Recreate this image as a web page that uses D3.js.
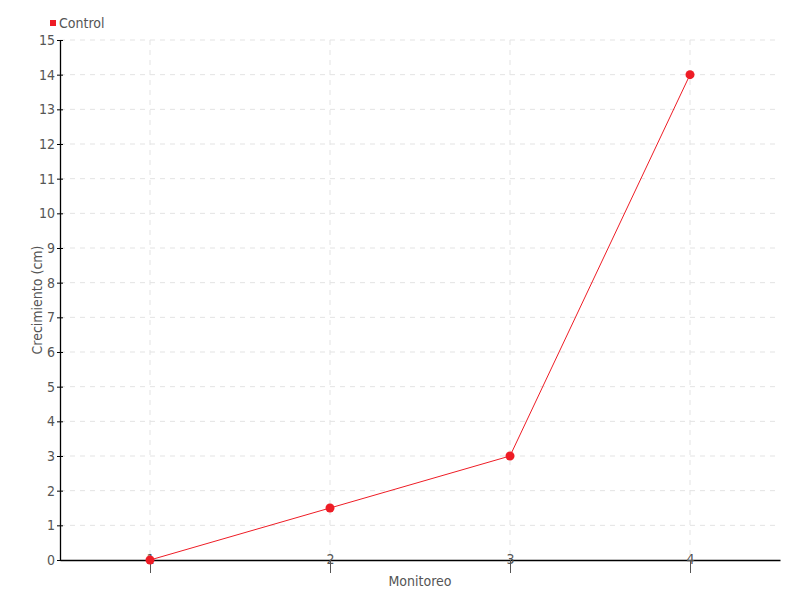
<!DOCTYPE html>
<html>
<head>
<meta charset="utf-8">
<script src="https://cdn.jsdelivr.net/npm/d3@7"></script>
<style>
  body { margin: 0; background: #fff; }
  text { font-family: "Liberation Sans Narrow", "DejaVu Sans Condensed", sans-serif; fill: #555; }
</style>
</head>
<body>
<div id="chart"></div>
<script>
var monitoreo = [1, 2, 3, 4];
var control = [0, 1.5, 3, 14];
var yTicks = d3.range(0, 16);
var serieName = "Control";
var color = "#ee1c25";

var margin = {top: 40, right: 20, bottom: 40, left: 60},
    width = 800 - margin.left - margin.right,
    height = 600 - margin.top - margin.bottom;

var svg = d3.select("#chart").append("svg")
    .attr("width", 800)
    .attr("height", 600)
  .append("g")
    .attr("transform", "translate(" + margin.left + "," + margin.top + ")");

var x = d3.scaleLinear().domain([0.5, 4.5]).range([0, width]);
var y = d3.scaleLinear().domain([0, 15]).range([height, 0]);

// grid
svg.append("g").selectAll("line.h")
    .data(yTicks.slice(1))
  .enter().append("line")
    .attr("x1", 0).attr("x2", width)
    .attr("y1", function(d) { return y(d); })
    .attr("y2", function(d) { return y(d); })
    .attr("stroke", "#e3e3e3")
    .attr("stroke-dasharray", "5,5");
svg.append("g").selectAll("line.v")
    .data(monitoreo)
  .enter().append("line")
    .attr("x1", function(d) { return x(d); })
    .attr("x2", function(d) { return x(d); })
    .attr("y1", 0).attr("y2", height)
    .attr("stroke", "#e3e3e3")
    .attr("stroke-dasharray", "5,5");

// axes
var xAxis = svg.append("g")
    .attr("transform", "translate(0," + height + ")")
    .call(d3.axisBottom(x).tickValues(monitoreo).tickFormat(d3.format("d")).tickSize(13).tickSizeOuter(0));
xAxis.select(".domain").attr("stroke", "#000").attr("stroke-width", 1.3);
xAxis.selectAll(".tick line").attr("stroke", "#555");
xAxis.selectAll(".tick text").attr("dy", "0.1em").attr("y", 3).style("font-size", "14px");

var yAxis = svg.append("g")
    .call(d3.axisLeft(y).tickValues(yTicks).tickSize(3).tickSizeOuter(0));
yAxis.select(".domain").attr("stroke", "#000").attr("stroke-width", 1.3);
yAxis.selectAll(".tick line").attr("x2", 3).attr("x1", -3).attr("stroke", "#000");
yAxis.selectAll(".tick text").attr("x", -5).style("font-size", "14px");

// line
var line = d3.line()
    .x(function(d, i) { return x(monitoreo[i]); })
    .y(function(d) { return y(d); });
svg.append("path")
    .datum(control)
    .attr("fill", "none")
    .attr("stroke", color)
    .attr("stroke-width", 1)
    .attr("d", line);
svg.selectAll(".dot")
    .data(control)
  .enter().append("circle")
    .attr("class", "dot")
    .attr("cx", function(d, i) { return x(monitoreo[i]); })
    .attr("cy", function(d) { return y(d); })
    .attr("r", 4.5)
    .attr("fill", color);

// labels
svg.append("text")
    .attr("x", width / 2).attr("y", height + 26)
    .attr("text-anchor", "middle")
    .style("font-size", "14px")
    .text("Monitoreo");
svg.append("text")
    .attr("transform", "translate(-18," + (height / 2) + ") rotate(-90)")
    .attr("text-anchor", "middle")
    .style("font-size", "14px")
    .text("Crecimiento (cm)");

// legend
var legend = svg.append("g").attr("transform", "translate(-10,-17)");
legend.append("rect")
    .attr("x", 0).attr("y", -3).attr("width", 6).attr("height", 6)
    .attr("fill", color);
legend.append("text")
    .attr("x", 9).attr("dy", "0.35em")
    .style("font-size", "14px")
    .text(serieName);
</script>
</body>
</html>
